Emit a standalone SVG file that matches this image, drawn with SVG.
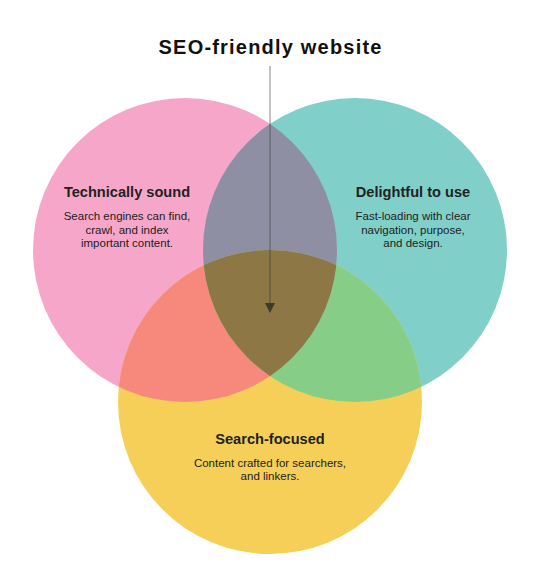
<svg xmlns="http://www.w3.org/2000/svg" width="543" height="570" viewBox="0 0 543 570">
  <style>
    .title { font-family: "Liberation Sans", Arial, sans-serif; font-weight: bold; font-size: 20px; letter-spacing: 1.2px; fill: #111; }
    .head { font-family: "Liberation Sans", Arial, sans-serif; font-weight: bold; font-size: 14.6px; fill: #222; }
    .body { font-family: "Liberation Sans", Arial, sans-serif; font-size: 11.5px; fill: #222; }
  </style>
  <defs>
    <clipPath id="cPink"><circle cx="185" cy="250" r="152"/></clipPath>
    <clipPath id="cTeal"><circle cx="355" cy="250" r="152"/></clipPath>
  </defs>
  <rect width="543" height="570" fill="#ffffff"/>

  <g id="title">
    <text class="title" x="270.6" y="54" text-anchor="middle">SEO-friendly website</text>
  </g>

  <g id="technically-sound">
    <circle cx="185" cy="250" r="152" fill="#f6a7c9"/>
  </g>
  <g id="delightful-to-use">
    <circle cx="355" cy="250" r="152" fill="#80d0c9"/>
  </g>
  <g id="search-focused">
    <circle cx="270" cy="402" r="152" fill="#f5cf58"/>
  </g>

  <g id="overlaps">
    <g clip-path="url(#cPink)"><circle cx="355" cy="250" r="152" fill="#8f8fa4"/></g>
    <g clip-path="url(#cPink)"><circle cx="270" cy="402" r="152" fill="#f7897c"/></g>
    <g clip-path="url(#cTeal)"><circle cx="270" cy="402" r="152" fill="#86cd88"/></g>
    <g clip-path="url(#cPink)"><g clip-path="url(#cTeal)"><circle cx="270" cy="402" r="152" fill="#8d7745"/></g></g>
  </g>

  <g id="labels">
    <text class="head" x="127" y="197" text-anchor="middle">Technically sound</text>
    <text class="body" x="127" y="220" text-anchor="middle">Search engines can find,</text>
    <text class="body" x="127" y="233.5" text-anchor="middle">crawl, and index</text>
    <text class="body" x="127" y="247" text-anchor="middle">important content.</text>

    <text class="head" x="413" y="197" text-anchor="middle">Delightful to use</text>
    <text class="body" x="413" y="220" text-anchor="middle">Fast-loading with clear</text>
    <text class="body" x="413" y="233.5" text-anchor="middle">navigation, purpose,</text>
    <text class="body" x="413" y="247" text-anchor="middle">and design.</text>

    <text class="head" x="270" y="444" text-anchor="middle">Search-focused</text>
    <text class="body" x="270" y="466.5" text-anchor="middle">Content crafted for searchers,</text>
    <text class="body" x="270" y="480" text-anchor="middle">and linkers.</text>
  </g>

  <g id="connectors">
    <line x1="270" y1="66" x2="270" y2="303" stroke="#3a3a3a" stroke-opacity="0.6" stroke-width="1"/>
    <path d="M265,303 L275,303 L270,313 Z" fill="#3d3a2c"/>
  </g>
</svg>
